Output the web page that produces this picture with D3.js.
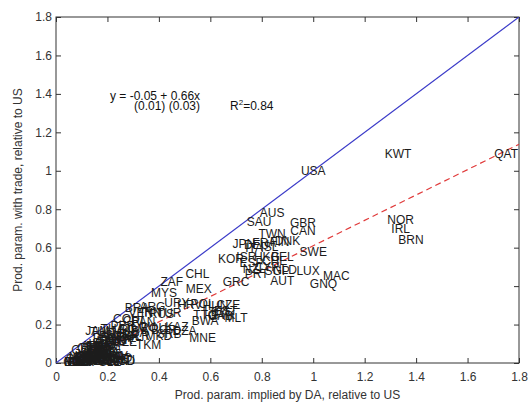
<!DOCTYPE html>
<html>
<head>
<meta charset="utf-8">
<script src="https://cdn.jsdelivr.net/npm/d3@7"></script>
<style>
  body { margin: 0; background: #fff; }
  svg { display: block; font-family: "Liberation Sans", Arial, sans-serif; }
</style>
</head>
<body>
<svg id="chart" width="531" height="403"></svg>
<script>
// country codes with (implied by DA, with trade) values, relative to US
var codes = [
  "USA","KWT","QAT","NOR","IRL","BRN","AUS","SAU","GBR","CAN","TWN","SWE","LUX","MAC","GNQ","BEL",
  "JPN","FRA","FIN","DEU","DNK","ITA","ISL","KOR","ISR","ESP","HKG","CHE","NZL","GRC","PRT","SGP","CYP","NLD","AUT",
  "CHL","ZAF","MYS","MEX","BRA","ARG","URY","HRV","POL","HUN","CZE","SVK","MLT","EST",
  "VEN","IRN","RUS","TUR","LBY","GAB","BWA","COL","CRI","PAN","TTO",
  "PER","THA","DOM","ECU","ROU","BGR","KAZ","DZA","TUN","JAM","MUS","LCA","MNE","SRB","MKD","TKM",
  "CHN","IDN","EGY","MAR","PHL","GTM","SLV","PRY","SYR","JOR","ARM","GEO","UKR","AZE","ALB","BLR","LKA","NAM","SWZ","FJI","CPV","BLZ","SUR","GUY",
  "IND","BOL","HND","NIC","PAK","VNM","BGD","NGA","KEN","GHA","SEN","CMR","CIV","ZMB","ZWE","UGA","TZA","ETH","MOZ","MWI",
  "NPL","KHM","LAO","MMR","HTI","BEN","BFA","MLI","NER","TCD","RWA","BDI","COD","CAF","SLE","LBR","GIN","TGO","MDG",
  "SDN","YEM","MNG","KGZ","TJK","UZB","MDA","AGO","COG","LSO","MRT","GMB"
];
var xVals = [
  1.00,1.33,1.75,1.34,1.34,1.38,0.84,0.79,0.96,0.96,0.84,1.00,0.98,1.09,1.04,0.88,
  0.73,0.81,0.87,0.78,0.90,0.77,0.83,0.68,0.74,0.76,0.82,0.85,0.77,0.70,0.78,0.86,0.82,0.89,0.88,
  0.55,0.45,0.42,0.555,0.315,0.375,0.47,0.52,0.57,0.62,0.67,0.65,0.70,0.66,
  0.33,0.37,0.41,0.44,0.62,0.64,0.58,0.27,0.30,0.34,0.58,
  0.26,0.22,0.30,0.34,0.38,0.42,0.47,0.50,0.18,0.16,0.27,0.31,0.57,0.44,0.40,0.36,
  0.22,0.18,0.21,0.17,0.14,0.25,0.20,0.19,0.22,0.28,0.15,0.16,0.25,0.27,0.23,0.32,0.17,0.20,0.18,0.15,0.13,0.21,0.24,0.11,
  0.20,0.17,0.18,0.16,0.19,0.15,0.13,0.22,0.12,0.14,0.17,0.21,0.24,0.20,0.23,0.10,0.11,0.09,0.13,0.08,
  0.15,0.18,0.25,0.12,0.27,0.16,0.19,0.22,0.10,0.26,0.14,0.07,0.08,0.11,0.21,0.09,0.24,0.17,0.12,
  0.13,0.14,0.16,0.12,0.11,0.15,0.17,0.19,0.20,0.12,0.10,0.09
];
var yVals = [
  1.00,1.09,1.09,0.745,0.70,0.64,0.78,0.735,0.73,0.69,0.67,0.58,0.48,0.455,0.41,0.55,
  0.62,0.625,0.63,0.615,0.635,0.60,0.605,0.54,0.55,0.52,0.555,0.53,0.49,0.42,0.465,0.48,0.50,0.485,0.43,
  0.463,0.42,0.365,0.385,0.287,0.29,0.315,0.305,0.31,0.30,0.305,0.25,0.235,0.27,
  0.26,0.265,0.255,0.26,0.265,0.245,0.22,0.23,0.22,0.215,0.25,
  0.195,0.18,0.18,0.19,0.185,0.175,0.19,0.17,0.16,0.165,0.165,0.155,0.13,0.15,0.14,0.095,
  0.12,0.10,0.11,0.09,0.08,0.13,0.12,0.13,0.135,0.14,0.09,0.085,0.12,0.11,0.115,0.14,0.10,0.09,0.08,0.09,0.08,0.14,0.145,0.07,
  0.06,0.07,0.06,0.045,0.05,0.04,0.03,0.04,0.02,0.025,0.03,0.03,0.035,0.02,0.02,0.015,0.012,0.008,0.01,0.006,
  0.015,0.02,0.025,0.02,0.015,0.012,0.01,0.012,0.007,0.01,0.01,0.005,0.004,0.005,0.008,0.005,0.012,0.01,0.009,
  0.035,0.04,0.05,0.03,0.025,0.045,0.055,0.06,0.07,0.04,0.03,0.022
];

var xTicks = [0, 0.2, 0.4, 0.6, 0.8, 1, 1.2, 1.4, 1.6, 1.8];
var yTicks = [0, 0.2, 0.4, 0.6, 0.8, 1, 1.2, 1.4, 1.6, 1.8];

// fitted line y = a + b x
var fitA = -0.05, fitB = 0.66;

var svg = d3.select("#chart");
var pLeft = 56, pRight = 519, pTop = 17, pBottom = 363;

var x = d3.scaleLinear().domain([0, 1.8]).range([pLeft, pRight]);
var y = d3.scaleLinear().domain([0, 1.8]).range([pBottom, pTop]);

var fmt = function(d) { return d3.format("~g")(d); };

svg.append("rect").attr("width", 531).attr("height", 403).attr("fill", "#fff");

svg.append("defs").append("clipPath").attr("id", "clip")
  .append("rect").attr("x", pLeft).attr("y", pTop)
  .attr("width", pRight - pLeft).attr("height", pBottom - pTop);

// axes, MATLAB style inward ticks on all four sides
var gx = svg.append("g").attr("transform", "translate(0," + pBottom + ")")
  .call(d3.axisBottom(x).tickValues(xTicks).tickFormat(fmt).tickSize(-5).tickSizeOuter(0).tickPadding(9));
var gy = svg.append("g").attr("transform", "translate(" + pLeft + ",0)")
  .call(d3.axisLeft(y).tickValues(yTicks).tickFormat(fmt).tickSize(-5).tickSizeOuter(0).tickPadding(4));
var gt = svg.append("g").attr("transform", "translate(0," + pTop + ")")
  .call(d3.axisTop(x).tickValues(xTicks).tickFormat("").tickSize(-5).tickSizeOuter(0));
var gr = svg.append("g").attr("transform", "translate(" + pRight + ",0)")
  .call(d3.axisRight(y).tickValues(yTicks).tickFormat("").tickSize(-5).tickSizeOuter(0));

[gx, gy, gt, gr].forEach(function(g) {
  g.select(".domain").remove();
  g.selectAll("line").attr("stroke", "#333");
  g.selectAll("text").attr("fill", "#333").style("font-size", "12px")
    .style("font-family", "'Liberation Sans', Arial, sans-serif");
});

svg.append("rect")
  .attr("x", pLeft).attr("y", pTop)
  .attr("width", pRight - pLeft).attr("height", pBottom - pTop)
  .attr("fill", "none").attr("stroke", "#333").attr("stroke-width", 1);

var plot = svg.append("g").attr("clip-path", "url(#clip)");

// 45 degree line
plot.append("line")
  .attr("x1", x(0)).attr("y1", y(0))
  .attr("x2", x(1.8)).attr("y2", y(1.8))
  .attr("stroke", "#3b3bc8").attr("stroke-width", 1.2);

// regression line
plot.append("line")
  .attr("x1", x(0.08)).attr("y1", y(fitA + fitB * 0.08))
  .attr("x2", x(1.8)).attr("y2", y(fitA + fitB * 1.8))
  .attr("stroke", "#e03a3a").attr("stroke-width", 1.2)
  .attr("stroke-dasharray", "6,4");

// country labels
svg.append("g").selectAll("text")
  .data(codes)
  .enter().append("text")
  .attr("x", function(d, i) { return x(xVals[i]); })
  .attr("y", function(d, i) { return y(yVals[i]); })
  .attr("dy", "0.35em")
  .attr("text-anchor", "middle")
  .style("font-size", "12px")
  .style("fill", "#1c1c1c")
  .text(function(d) { return d; });

// fit annotation
var ann = svg.append("g").style("font-size", "12px").style("fill", "#111");
ann.append("text").attr("x", 110).attr("y", 100).text("y = -0.05 + 0.66x");
ann.append("text").attr("x", 134).attr("y", 110).text("(0.01) (0.03)");
var r2 = ann.append("text").attr("x", 230).attr("y", 110);
r2.append("tspan").text("R");
r2.append("tspan").attr("dy", -5).style("font-size", "8px").text("2");
r2.append("tspan").attr("dy", 5).text("=0.84");

// axis titles
svg.append("text")
  .attr("x", (pLeft + pRight) / 2).attr("y", 399)
  .attr("text-anchor", "middle")
  .style("font-size", "12px").style("fill", "#333")
  .text("Prod. param. implied by DA, relative to US");

svg.append("text")
  .attr("transform", "translate(22," + (pTop + pBottom) / 2 + ") rotate(-90)")
  .attr("text-anchor", "middle")
  .style("font-size", "12px").style("fill", "#333")
  .text("Prod. param. with trade, relative to US");
</script>
</body>
</html>
